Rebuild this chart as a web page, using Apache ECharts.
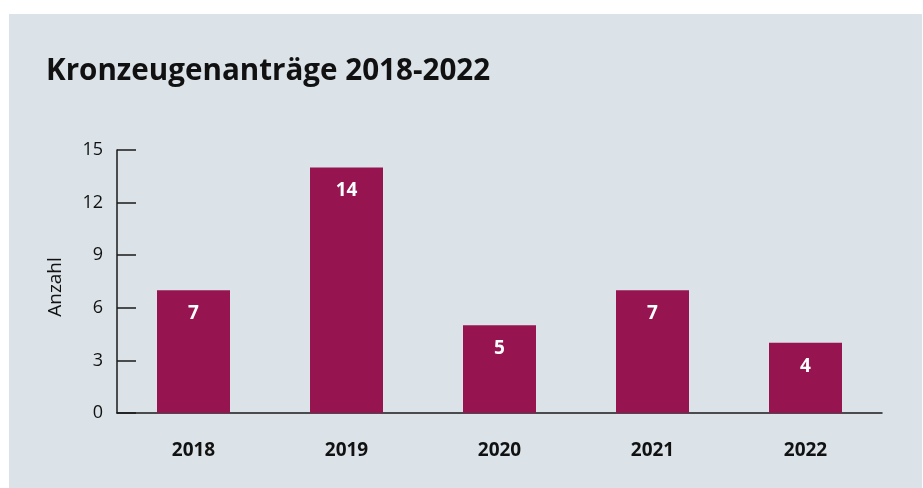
<!DOCTYPE html>
<html>
<head>
<meta charset="utf-8">
<script src="https://cdn.jsdelivr.net/npm/echarts@6/dist/echarts.min.js"></script>
<style>
  html, body { margin: 0; padding: 0; background: #fff; }
  #chart { width: 923px; height: 488px; }
</style>
</head>
<body>
<div id="chart"></div>
<script>
// Daten
const years = ['2018', '2019', '2020', '2021', '2022']
const antraege = [7, 14, 5, 7, 4]
const yTicks = [0, 3, 6, 9, 12, 15]

const fontFamily = '"Open Sans", Lato, sans-serif'

const chart = echarts.init(document.getElementById('chart'))
chart.setOption({
  backgroundColor: '#ffffff',
  animation: false,
  graphic: [{
    type: 'rect',
    z: -10,
    shape: { x: 9, y: 14, width: 913, height: 474 },
    style: { fill: '#dbe3e8' }
  }],
  title: {
    text: 'Kronzeugenanträge 2018-2022',
    left: 41,
    top: 52,
    textStyle: {
      fontFamily,
      fontSize: 29.6,
      fontWeight: 'bold',
      color: '#111'
    }
  },
  grid: {
    left: 117,
    right: 41,
    top: 150,
    bottom: 75
  },
  xAxis: {
    type: 'category',
    data: years,
    axisLine: { lineStyle: { color: '#1a1a1a', width: 1.5 } },
    axisTick: { show: false },
    axisLabel: {
      margin: 28,
      fontFamily,
      fontSize: 19,
      fontWeight: 'bold',
      color: '#111'
    }
  },
  yAxis: {
    type: 'value',
    min: yTicks[0],
    max: yTicks[yTicks.length - 1],
    interval: 3,
    name: 'Anzahl',
    nameLocation: 'middle',
    nameGap: 52,
    nameTextStyle: { fontFamily, fontSize: 19, color: '#111', padding: [0, 11, 0, 0] },
    axisLine: { show: true, lineStyle: { color: '#1a1a1a', width: 1.5 } },
    axisTick: { show: true, inside: true, length: 19, lineStyle: { color: '#1a1a1a', width: 1.5 } },
    splitLine: { show: false },
    axisLabel: {
      margin: 14,
      fontFamily,
      fontSize: 18,
      color: '#111'
    }
  },
  series: [{
    type: 'bar',
    data: antraege,
    barWidth: 73,
    itemStyle: { color: '#961450' },
    label: {
      show: true,
      position: 'insideTop',
      distance: 14,
      color: '#fff',
      fontFamily,
      fontSize: 19,
      fontWeight: 'bold'
    }
  }]
})
</script>
</body>
</html>
